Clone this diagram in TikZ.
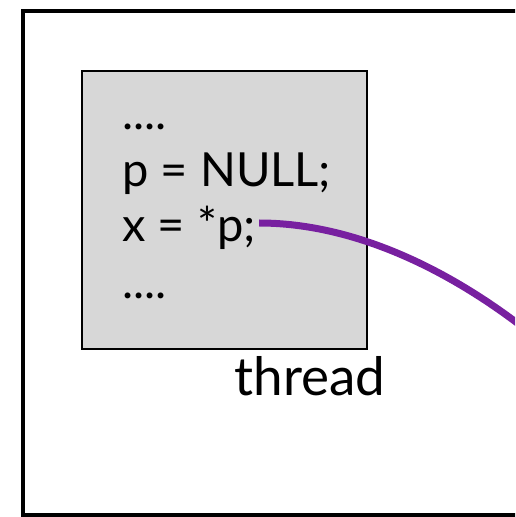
\documentclass[tikz,border=0pt]{standalone}
\usepackage{fontspec}
\setmainfont{Lato}
\usetikzlibrary{positioning}
\definecolor{BoxGray}{RGB}{215,215,215}
\definecolor{PtrPurple}{RGB}{120,32,160}

\begin{document}
\begin{tikzpicture}[
    x=0.5pt,
    y=-0.5pt,
    code/.style={
        anchor=base west,
        inner sep=0pt,
        font=\fontsize{23.5}{28}\selectfont
    },
    frame/.style={
        draw,
        line width=2.25pt
    },
    threadbox/.style={
        draw,
        line width=1pt,
        fill=BoxGray,
        minimum width=142.5pt,
        minimum height=138.5pt
    },
    link/.style={
        line width=3.5pt,
        draw=PtrPurple
    }
]

\useasboundingbox (0,0) rectangle (515,517);
\clip (0,0) rectangle (515,517);

\draw[frame] (23,11) rectangle (560,515);

\node[threadbox] (box) at (224.5,210) {};

\node[code] (l1) at (122,130) {....};
\node[code] (l2) at (122,187) {p = NULL;};
\node[code] (l3) at (122,242) {x = *p;};
\node[code] (l4) at (122,298) {....};

\node[anchor=base, inner sep=0pt, font=\fontsize{26.5}{30}\selectfont] (label) at (310,395) {thread};

\coordinate (out) at (545,345);
\draw[link] ([xshift=1.5pt,yshift=9.5pt]l3.base east) .. controls +(95,0) and (455,270) .. (out);

\end{tikzpicture}
\end{document}
